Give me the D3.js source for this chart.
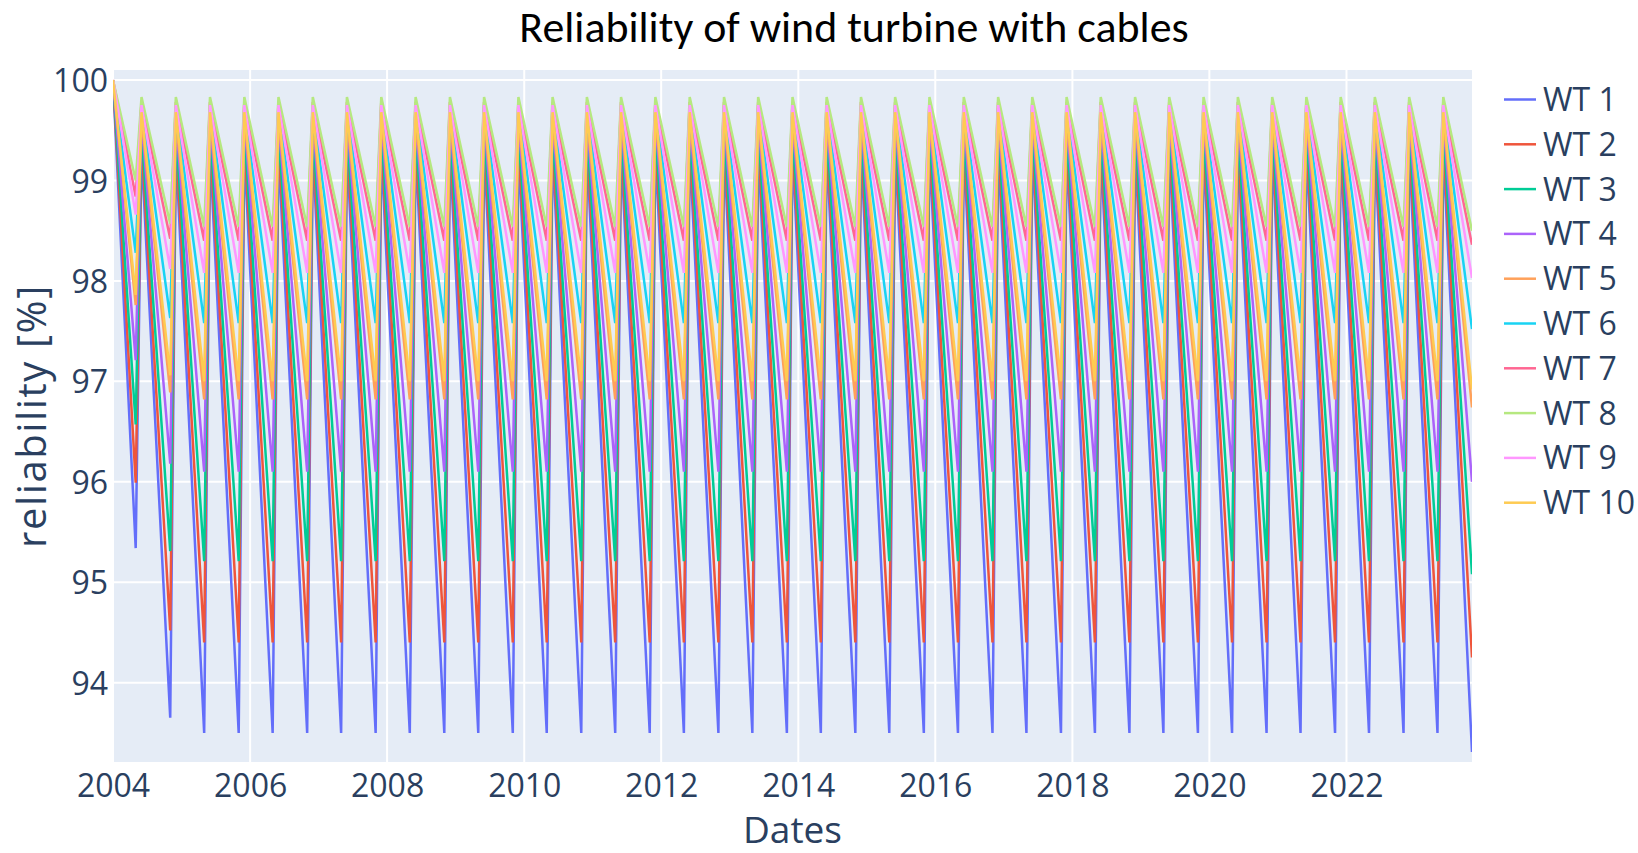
<!DOCTYPE html>
<html>
<head>
<meta charset="utf-8">
<script src="https://cdn.jsdelivr.net/npm/d3@7"></script>
<style>
  body { margin: 0; background: #ffffff; }
  svg { display: block; }
</style>
</head>
<body>
<svg id="chart" width="1638" height="853"></svg>
<script>
// Turbines and their trace colours
const turbines = ["WT 1", "WT 2", "WT 3", "WT 4", "WT 5", "WT 6", "WT 7", "WT 8", "WT 9", "WT 10"];
const colors = ["#636efa", "#EF553B", "#00cc96", "#ab63fa", "#FFA15A", "#19d3f3", "#FF6692", "#B6E880", "#FF97FF", "#FECB52"];

// Reliability [%] at commissioning (2004-01)
const startValue = [100, 100, 100, 100, 100, 100, 100, 100, 100, 100];
// Low point before the first maintenance (2004-05)
const firstTrough = [95.34, 95.99, 96.57, 97.21, 97.76, 98.28, 98.84, 99.00, 98.66, 97.86];
// Low point before the second maintenance (2004-11)
const secondTrough = [93.65, 94.52, 95.31, 96.18, 96.89, 97.63, 98.42, 98.57, 98.12, 97.06];
// Recurring value one month after each maintenance
const peakValue = [99.30, 99.40, 99.50, 99.60, 99.62, 99.72, 99.78, 99.83, 99.75, 99.68];
// Recurring low point just before each maintenance
const troughValue = [93.50, 94.40, 95.21, 96.10, 96.82, 97.58, 98.40, 98.54, 98.08, 97.00];
// Last recorded value (2023-11)
const finalValue = [93.31, 94.25, 95.08, 96.00, 96.74, 97.52, 98.36, 98.50, 98.03, 96.92];

const startDate = "2004-01";
const troughDates = [
  "2004-05", "2004-11", "2005-05", "2005-11", "2006-05", "2006-11", "2007-05", "2007-11",
  "2008-05", "2008-11", "2009-05", "2009-11", "2010-05", "2010-11", "2011-05", "2011-11",
  "2012-05", "2012-11", "2013-05", "2013-11", "2014-05", "2014-11", "2015-05", "2015-11",
  "2016-05", "2016-11", "2017-05", "2017-11", "2018-05", "2018-11", "2019-05", "2019-11",
  "2020-05", "2020-11", "2021-05", "2021-11", "2022-05", "2022-11", "2023-05", "2023-11"
];
const peakDates = [
  "2004-06", "2004-12", "2005-06", "2005-12", "2006-06", "2006-12", "2007-06", "2007-12",
  "2008-06", "2008-12", "2009-06", "2009-12", "2010-06", "2010-12", "2011-06", "2011-12",
  "2012-06", "2012-12", "2013-06", "2013-12", "2014-06", "2014-12", "2015-06", "2015-12",
  "2016-06", "2016-12", "2017-06", "2017-12", "2018-06", "2018-12", "2019-06", "2019-12",
  "2020-06", "2020-12", "2021-06", "2021-12", "2022-06", "2022-12", "2023-06"
];

const yTicks = [94, 95, 96, 97, 98, 99, 100];
const xTickYears = [2004, 2006, 2008, 2010, 2012, 2014, 2016, 2018, 2020, 2022];

// ---------------------------------------------------------------
const parseMonth = d3.timeParse("%Y-%m");
const svg = d3.select("#chart");
const plot = { left: 113, right: 1472, top: 70, bottom: 762 };
const fontAxis = "'Open Sans', 'Noto Sans', sans-serif";
const axisColor = "#2a3f5f";

// Build each turbine's series: start, then alternating low point / recovered value
const series = turbines.map((name, i) => {
  const pts = [{ date: parseMonth(startDate), value: startValue[i] }];
  troughDates.forEach((d, k) => {
    let v = troughValue[i];
    if (k === 0) v = firstTrough[i];
    else if (k === 1) v = secondTrough[i];
    else if (k === troughDates.length - 1) v = finalValue[i];
    pts.push({ date: parseMonth(d), value: v });
    if (k < peakDates.length) pts.push({ date: parseMonth(peakDates[k]), value: peakValue[i] });
  });
  return { name, color: colors[i], points: pts };
});

const x = d3.scaleTime()
  .domain([parseMonth(startDate), parseMonth(troughDates[troughDates.length - 1])])
  .range([plot.left, plot.right]);
const y = d3.scaleLinear()
  .domain([93.21, 100.1])
  .range([plot.bottom, plot.top]);

// Plot background
svg.append("rect")
  .attr("x", plot.left).attr("y", plot.top)
  .attr("width", plot.right - plot.left).attr("height", plot.bottom - plot.top)
  .attr("fill", "#E5ECF6");

// Grid lines
const xTicks = xTickYears.map(yr => new Date(yr, 0, 1));
svg.append("g").selectAll("line").data(xTicks).join("line")
  .attr("x1", d => x(d)).attr("x2", d => x(d))
  .attr("y1", plot.top).attr("y2", plot.bottom)
  .attr("stroke", "#ffffff").attr("stroke-width", 2);
svg.append("g").selectAll("line").data(yTicks).join("line")
  .attr("x1", plot.left).attr("x2", plot.right)
  .attr("y1", d => y(d)).attr("y2", d => y(d))
  .attr("stroke", "#ffffff").attr("stroke-width", 2);

// Axes (labels only, no domain line or tick marks)
const yAxis = svg.append("g")
  .attr("transform", `translate(${plot.left - 5},0)`)
  .call(d3.axisLeft(y).tickValues(yTicks).tickSize(0).tickPadding(0).tickFormat(d3.format("d")));
const xAxis = svg.append("g")
  .attr("transform", `translate(0,${plot.bottom + 5})`)
  .call(d3.axisBottom(x).tickValues(xTicks).tickSize(0).tickPadding(0).tickFormat(d3.timeFormat("%Y")));
[xAxis, yAxis].forEach(g => {
  g.select(".domain").remove();
  g.selectAll("text")
    .attr("fill", axisColor)
    .style("font-family", fontAxis)
    .style("font-size", "32px");
});
xAxis.selectAll("text").attr("dy", "0.95em");
yAxis.selectAll("text").attr("dy", "0.36em");

// Clip for the traces
svg.append("clipPath").attr("id", "plot-clip")
  .append("rect")
  .attr("x", plot.left).attr("y", plot.top)
  .attr("width", plot.right - plot.left).attr("height", plot.bottom - plot.top);

const line = d3.line().x(d => x(d.date)).y(d => y(d.value));
svg.append("g").attr("clip-path", "url(#plot-clip)")
  .selectAll("path").data(series).join("path")
  .attr("d", d => line(d.points))
  .attr("fill", "none")
  .attr("stroke", d => d.color)
  .attr("stroke-width", 2.5);

// Legend
const legend = svg.append("g").selectAll("g").data(series).join("g")
  .attr("transform", (d, i) => `translate(1504,${99.5 + i * 44.8})`);
legend.append("line")
  .attr("x1", 0).attr("x2", 32).attr("y1", 0).attr("y2", 0)
  .attr("stroke", d => d.color).attr("stroke-width", 2.5);
legend.append("text")
  .attr("x", 39).attr("y", 0).attr("dy", "0.36em")
  .attr("fill", axisColor)
  .style("font-family", fontAxis).style("font-size", "32px")
  .text(d => d.name);

// Axis titles
svg.append("text")
  .attr("x", (plot.left + plot.right) / 2).attr("y", 843)
  .attr("text-anchor", "middle")
  .attr("fill", axisColor)
  .style("font-family", fontAxis).style("font-size", "37px")
  .text("Dates");
svg.append("text")
  .attr("transform", `translate(46,${(plot.top + plot.bottom) / 2}) rotate(-90)`)
  .attr("text-anchor", "middle")
  .attr("fill", axisColor)
  .style("font-family", fontAxis).style("font-size", "40px")
  .style("letter-spacing", "1.6px")
  .text("reliability [%]");

// Title, sized to span its line width
const title = svg.append("text")
  .attr("x", 854).attr("y", 42)
  .attr("text-anchor", "middle")
  .attr("fill", "#000000")
  .style("font-family", "Carlito, Lato, 'Open Sans', sans-serif")
  .style("font-size", "40px")
  .text("Reliability of wind turbine with cables");
const tw = title.node().getComputedTextLength();
title.style("font-size", (40 * 669 / tw).toFixed(1) + "px");
</script>
</body>
</html>
